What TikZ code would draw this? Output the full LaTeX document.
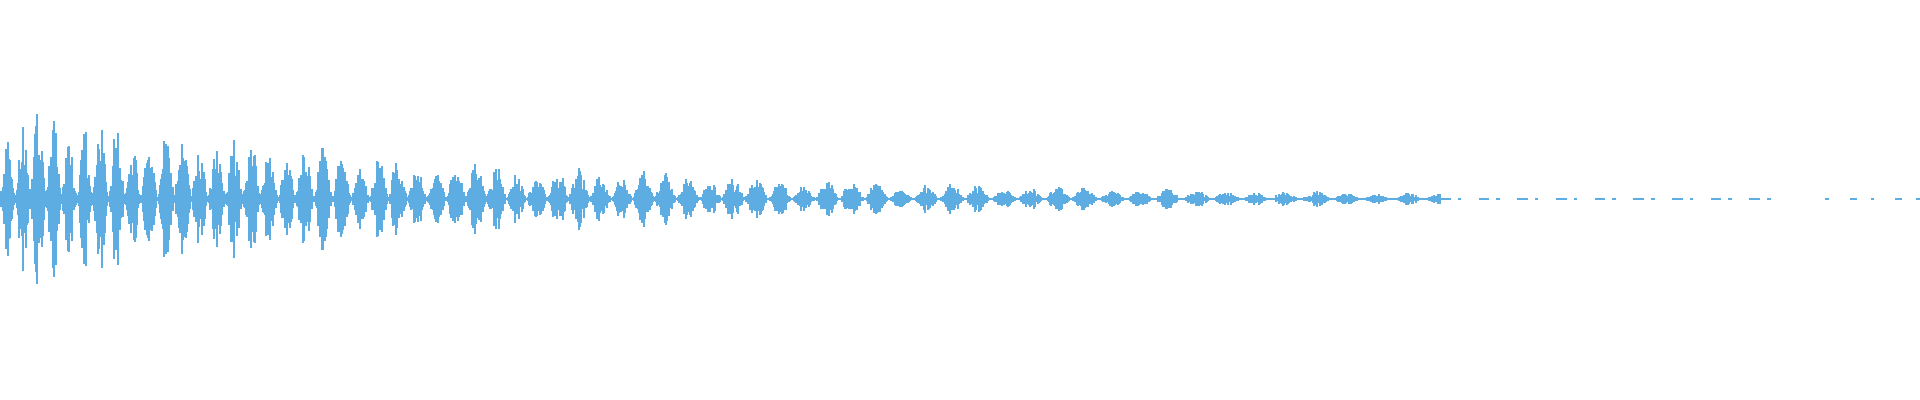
\documentclass[tikz,border=0pt]{standalone}
\definecolor{wave}{RGB}{93,173,226}
\begin{document}
\begin{tikzpicture}[x=0.01cm, y=0.01cm]
  \useasboundingbox (0,0) rectangle (1920,400);
  \pgfmathsetseed{7}
  % bursts, decaying
  \foreach \i in {1,...,1440} {
    \pgfmathsetmacro{\p}{15+7*\i/1440}
    \pgfmathsetmacro{\f}{mod(\i,\p)/\p}
    \pgfmathsetmacro{\g}{0.6+0.4*abs(sin(floor(\i/\p)*137))}
    \pgfmathsetmacro{\a}{max(1,100*\g*exp(-\i/520)*(0.06+0.94*sin(180*\f)^1.5)*(0.3+0.7*rnd))}
    \draw[wave, line width=0.014cm] (\i,{201-\a}) -- (\i,{201+\a});
  }
  % faint tail
  \draw[wave, line width=0.012cm, dash pattern=on 3pt off 2pt on 1pt off 5pt] (1440,201) -- (1780,201);
  \draw[wave, line width=0.012cm, dash pattern=on 1pt off 6pt on 2pt off 4pt] (1825,201) -- (1920,201);
\end{tikzpicture}
\end{document}
